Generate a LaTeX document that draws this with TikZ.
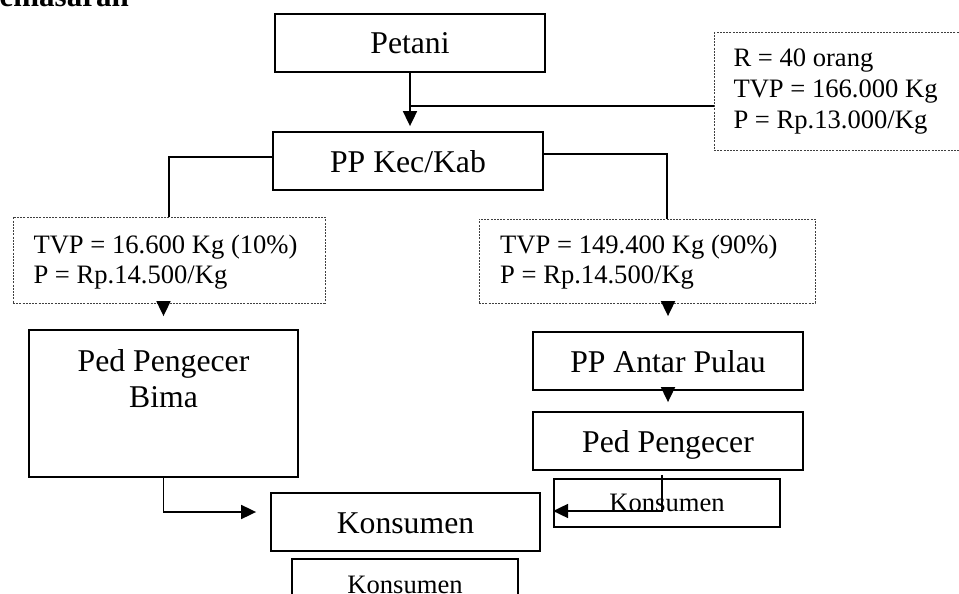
\documentclass[tikz,border=0pt]{standalone}
\usepackage{fontspec}
\setmainfont{Liberation Serif}
\usetikzlibrary{arrows.meta}
\begin{document}
\begin{tikzpicture}[x=1pt,y=-1pt,
  box/.style={draw=black, line width=1.8pt, inner sep=0pt, font=\fontsize{31.7}{36}\selectfont, text height=22pt, text depth=0pt},
  sbox/.style={draw=black, line width=1.8pt, inner sep=0pt, font=\fontsize{26.6}{30}\selectfont, text height=16pt, text depth=0pt},
  dbox/.style={draw=black!75, line width=1pt, dash pattern=on 2pt off 1.2pt, inner sep=0pt},
  info/.style={anchor=north west, inner sep=0pt, align=left},
  conn/.style={line width=1.8pt},
  arr/.style={conn, -{Triangle[length=15pt,width=14pt]}}
]
\fill[white] (0,0) rectangle (959,594);
\useasboundingbox (0,0) rectangle (959,594);

% title (cut off)
\node[anchor=base west, inner sep=0pt, font=\bfseries\fontsize{31}{31}\selectfont] (title) at (-19.5,7) {Pemasaran};

% solid boxes
\node[box, minimum width=270pt, minimum height=58pt] (petani) at (410,43) {Petani};
\node[box, minimum width=270pt, minimum height=58pt] (pp) at (408,161) {PP Kec/Kab};
\node[box, minimum width=270pt, minimum height=58pt] (antar) at (668,361) {PP Antar Pulau};
\node[box, minimum width=270pt, minimum height=58pt] (pedR) at (668,441) {Ped Pengecer};
\node[box, minimum width=269pt, minimum height=58pt] (kmid) at (405.5,522) {Konsumen};
\node[box, minimum width=269pt, minimum height=147pt] (pedB) at (163.5,403.5) {};
\node[anchor=north, inner sep=0pt, align=center, font=\fontsize{31.7}{36}\selectfont] (pedBtxt) at (163.5,349.3) {Ped Pengecer\\Bima};
\node[sbox, minimum width=226pt, minimum height=48pt] (kR) at (667,503) {Konsumen};
\node[sbox, minimum width=226pt, minimum height=52pt] (kbot) at (405,585) {Konsumen};

% dotted info boxes
\node[dbox, minimum width=251pt, minimum height=117pt] (rbox) at (839.5,91.5) {};
\node[info, font=\fontsize{26.6}{31}\selectfont] (rtxt) at (733.3,49) {R = 40 orang\\TVP = 166.000 Kg\\P = Rp.13.000/Kg};
\node[dbox, minimum width=312pt, minimum height=86pt] (tvpL) at (169,260) {};
\node[info, font=\fontsize{26.6}{30}\selectfont] (tvpLtxt) at (33.3,234.7) {TVP = 16.600 Kg (10\%)\\P = Rp.14.500/Kg};
\node[dbox, minimum width=336pt, minimum height=84pt] (tvpR) at (647,261) {};
\node[info, font=\fontsize{26.6}{30}\selectfont] (tvpRtxt) at (500,235.3) {TVP = 149.400 Kg (90\%)\\P = Rp.14.500/Kg};

% connectors
\coordinate (j1) at (410,106);
\coordinate (rx) at (667,0);
\draw[arr, shorten >=5pt] (petani.south) -- (petani.south |- pp.north);
\draw[conn] (j1) -- (j1 -| rbox.west);
\draw[conn] ([yshift=4pt]pp.west) -| (tvpL.north);
\draw[conn] ([yshift=7pt]pp.east) -| (rx |- tvpR.north);
\draw[arr, shorten >=13pt] (pedB.north |- tvpL.south) -- (pedB.north);
\draw[arr, shorten >=15pt] (antar.north |- tvpR.south) -- (antar.north);
\draw[arr, shorten >=9pt] (antar.south) -- (pedR.north);
\draw[arr, shorten >=14pt] (pedB.south) |- ([yshift=10pt]kmid.west);
\draw[arr] ([xshift=-6pt,yshift=-4pt]pedR.south) |- ([yshift=-8pt]kR.west);
\end{tikzpicture}
\end{document}
